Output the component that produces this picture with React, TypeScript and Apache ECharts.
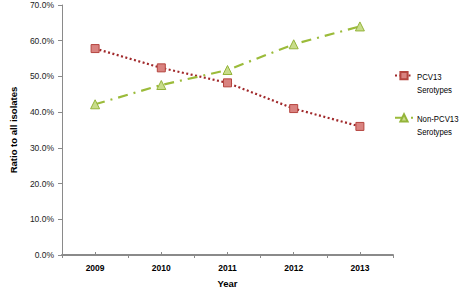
import React, { useEffect, useRef } from "react";
import * as echarts from "echarts";

const years = ["2009", "2010", "2011", "2012", "2013"];
const pcv13 = [0.578, 0.524, 0.482, 0.41, 0.36];
const nonPcv13 = [0.422, 0.476, 0.518, 0.59, 0.64];
const seriesNames = ["PCV13 Serotypes", "Non-PCV13 Serotypes"];

const FONT = "Liberation Sans";

export default function App() {
  const ref = useRef<HTMLDivElement>(null);
  useEffect(() => {
    const chart = echarts.init(ref.current!, undefined, { renderer: "svg" });
    const legendText = (name: string, y: number) => ({
      type: "text",
      x: 417,
      y,
      scaleX: 0.82,
      style: { text: name.replace(" ", "\n"), fontSize: 9.5, lineHeight: 13, fill: "#000", fontFamily: FONT },
    });
    chart.setOption({
      animation: false,
      textStyle: { fontFamily: FONT },
      grid: { left: 53, right: 66, top: 5, bottom: 35, containLabel: false },
      legend: {
        orient: "vertical",
        left: 394,
        top: 71,
        itemWidth: 18,
        itemHeight: 9,
        itemGap: 33,
        padding: 0,
        data: seriesNames,
        formatter: () => "",
        textStyle: { fontSize: 9, lineHeight: 11, color: "#000", fontFamily: FONT },
      },
      graphic: [legendText(seriesNames[0], 70), legendText(seriesNames[1], 112)],
      xAxis: [
        {
          type: "category",
          data: years,
          boundaryGap: true,
          name: "Year",
          nameLocation: "middle",
          nameGap: 23,
          nameTextStyle: { fontWeight: "bold", fontSize: 9.5, color: "#000", fontFamily: FONT },
          axisLine: { lineStyle: { color: "#8a8a8a", width: 2 } },
          axisTick: { show: true, length: 3, inside: false, lineStyle: { color: "#8a8a8a" } },
          axisLabel: { fontSize: 8.5, color: "#000", fontWeight: "bold", margin: 8, fontFamily: FONT },
        },
        {
          type: "category",
          data: years,
          position: "bottom",
          axisLine: { show: false },
          axisTick: { show: true, alignWithLabel: true, length: 3, inside: true, lineStyle: { color: "#8a8a8a" } },
          axisLabel: { show: false },
        },
      ],
      yAxis: {
        type: "value",
        min: 0,
        max: 0.7,
        interval: 0.1,
        name: "Ratio to all isolates",
        nameLocation: "middle",
        nameGap: 44,
        nameTextStyle: { fontWeight: "bold", fontSize: 9.5, color: "#000", fontFamily: FONT },
        axisLine: { show: true, lineStyle: { color: "#8a8a8a", width: 1 } },
        axisTick: { show: true, length: 4, lineStyle: { color: "#8a8a8a" } },
        splitLine: { show: false },
        axisLabel: {
          fontSize: 8.5,
          color: "#222",
          margin: 8,
          fontFamily: FONT,
          formatter: (v: number) => (v * 100).toFixed(1) + "%",
        },
      },
      series: [
        {
          name: seriesNames[0],
          type: "line",
          data: pcv13,
          symbol: "rect",
          symbolSize: 8,
          lineStyle: { color: "#a0282a", width: 2.2, type: [2, 2.5] },
          itemStyle: { color: "#d98380", borderColor: "#b5453f", borderWidth: 1 },
        },
        {
          name: seriesNames[1],
          type: "line",
          data: nonPcv13,
          symbol: "triangle",
          symbolSize: 9,
          lineStyle: { color: "#9bbb3a", width: 2.2, type: [10, 6, 2, 6] },
          itemStyle: { color: "#c8dc8a", borderColor: "#94b43a", borderWidth: 1 },
        },
      ],
    });
    return () => chart.dispose();
  }, []);
  return <div ref={ref} style={{ width: 459, height: 293, position: "absolute", left: 0, top: 0, background: "#fff" }} />;
}
